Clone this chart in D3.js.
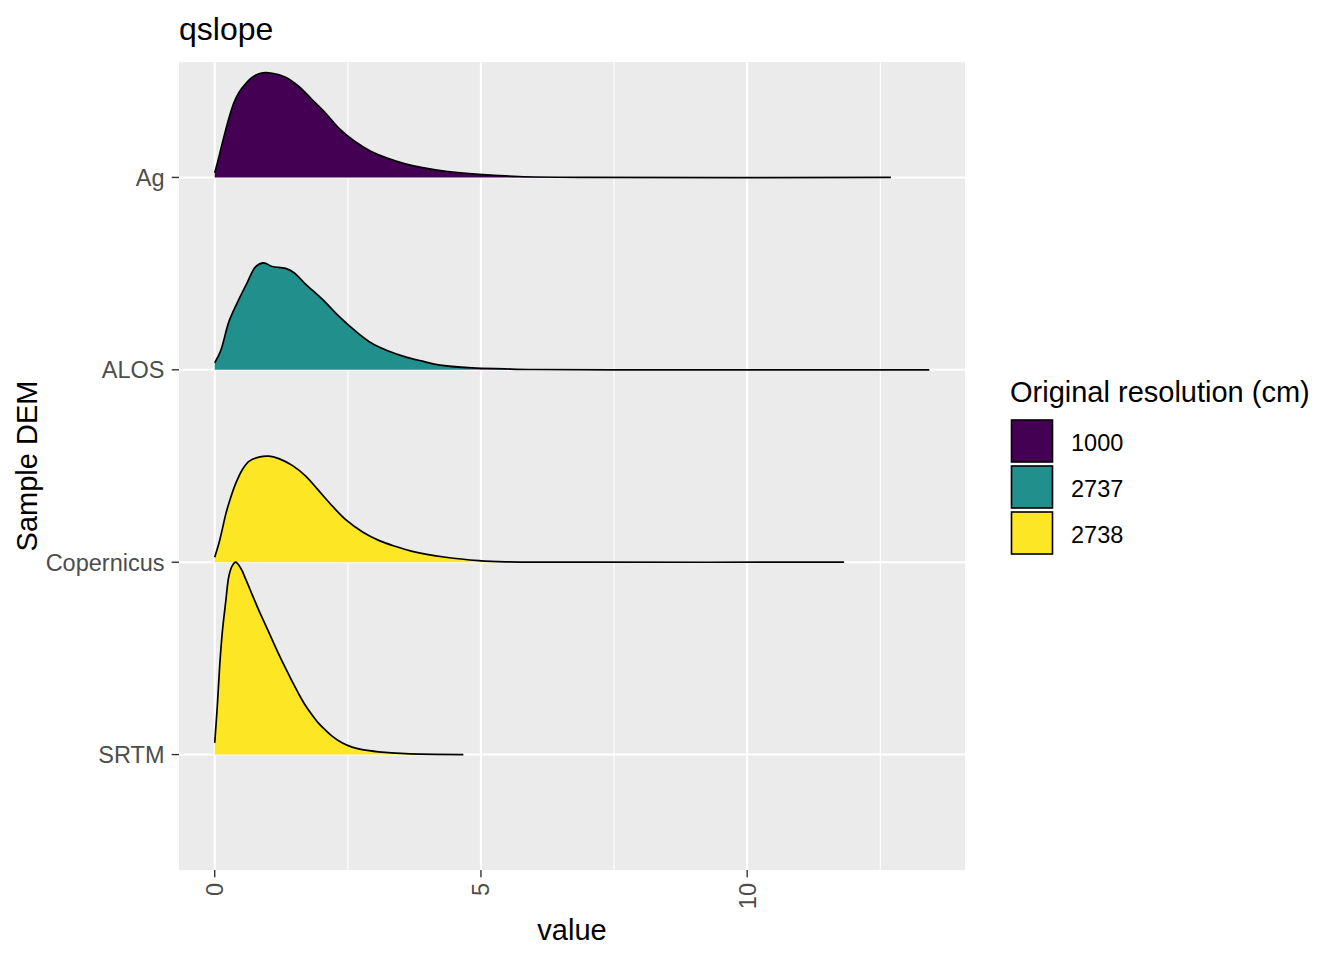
<!DOCTYPE html>
<html>
<head>
<meta charset="utf-8">
<script src="https://cdn.jsdelivr.net/npm/d3@7"></script>
<style>
  body { margin: 0; background: #fff; }
  text { font-family: "Liberation Sans", Arial, sans-serif; }
</style>
</head>
<body>
<div id="vis"></div>
<script>
var width = 1344,
    height = 960;

// categories, bottom to top
var dems = ["SRTM", "Copernicus", "ALOS", "Ag"];
var resolution = { Ag: "1000", ALOS: "2737", Copernicus: "2738", SRTM: "2738" };
var resLevels = ["1000", "2737", "2738"];
var resColors = ["#440154", "#21908C", "#FDE725"];

// density estimates of qslope, read from the ridges
var agX = [0, 0.05, 0.112, 0.174, 0.268, 0.362, 0.455, 0.58, 0.706, 0.861, 1.08, 1.33, 1.58, 1.83, 2.08, 2.33, 2.62, 2.93, 3.25, 3.56, 3.9, 4.34, 4.96, 5.71, 7.0, 12.70];
var agD = [0.015, 0.047, 0.090, 0.133, 0.193, 0.243, 0.276, 0.304, 0.325, 0.338, 0.338, 0.325, 0.295, 0.252, 0.209, 0.160, 0.118, 0.085, 0.062, 0.045, 0.032, 0.020, 0.010, 0.003, 0, 0];

var alosX = [0, 0.11, 0.27, 0.455, 0.61, 0.77, 0.92, 1.08, 1.33, 1.49, 1.70, 2.02, 2.33, 2.64, 2.95, 3.26, 3.58, 3.90, 4.20, 4.83, 5.45, 6.0, 7.5, 13.42];
var alosD = [0.023, 0.061, 0.158, 0.229, 0.283, 0.335, 0.347, 0.335, 0.329, 0.315, 0.279, 0.229, 0.174, 0.126, 0.086, 0.061, 0.042, 0.028, 0.016, 0.006, 0.003, 0.001, 0, 0];

var copX = [0, 0.08, 0.144, 0.206, 0.30, 0.393, 0.518, 0.642, 0.83, 1.017, 1.204, 1.455, 1.704, 1.953, 2.204, 2.466, 2.777, 3.09, 3.4, 3.71, 4.34, 4.96, 5.46, 7.0, 11.82];
var copD = [0.016, 0.062, 0.108, 0.155, 0.210, 0.255, 0.300, 0.327, 0.341, 0.344, 0.336, 0.314, 0.280, 0.232, 0.183, 0.137, 0.098, 0.070, 0.051, 0.035, 0.016, 0.005, 0.001, 0, 0];

var srtmX = [0, 0.05, 0.094, 0.144, 0.206, 0.268, 0.331, 0.393, 0.487, 0.58, 0.705, 0.829, 0.955, 1.08, 1.204, 1.33, 1.455, 1.58, 1.704, 1.83, 1.953, 2.08, 2.204, 2.39, 2.58, 2.77, 3.077, 3.58, 4.67];
var srtmD = [0.038, 0.161, 0.290, 0.400, 0.495, 0.581, 0.613, 0.624, 0.605, 0.570, 0.518, 0.468, 0.420, 0.372, 0.325, 0.280, 0.237, 0.196, 0.159, 0.128, 0.101, 0.079, 0.060, 0.038, 0.024, 0.016, 0.009, 0.003, 0];

var xTicks = [0, 5, 10];
var xMinor = [2.5, 7.5, 12.5];

var ridges = [
    { dem: "Ag", x: agX, d: agD },
    { dem: "ALOS", x: alosX, d: alosD },
    { dem: "Copernicus", x: copX, d: copD },
    { dem: "SRTM", x: srtmX, d: srtmD }
];

var panel = { left: 179, right: 965, top: 62, bottom: 870 };

// ggplot's 5% expansion around the data range
var xMax = d3.max(ridges, r => d3.max(r.x));
var span = xMax * 0.05;
var x = d3.scaleLinear()
    .domain([-span, xMax + span])
    .range([panel.left, panel.right]);

var y = d3.scalePoint()
    .domain(dems)
    .range([panel.bottom, panel.top])
    .padding(0.6);

var maxD = d3.max(ridges, r => d3.max(r.d));
var h = d3.scaleLinear().domain([0, maxD]).range([0, y.step()]);

var fill = d3.scaleOrdinal().domain(resLevels).range(resColors);

var svg = d3.select("#vis").append("svg")
    .attr("width", width)
    .attr("height", height);

svg.append("rect")
    .attr("x", panel.left).attr("y", panel.top)
    .attr("width", panel.right - panel.left)
    .attr("height", panel.bottom - panel.top)
    .attr("fill", "#EBEBEB");

var grid = svg.append("g").attr("stroke", "#fff");
grid.selectAll("line.minor")
    .data(xMinor)
    .join("line")
    .attr("x1", d => x(d)).attr("x2", d => x(d))
    .attr("y1", panel.top).attr("y2", panel.bottom)
    .attr("stroke-width", 1.1);
grid.selectAll("line.majx")
    .data(xTicks)
    .join("line")
    .attr("x1", d => x(d)).attr("x2", d => x(d))
    .attr("y1", panel.top).attr("y2", panel.bottom)
    .attr("stroke-width", 2.1);
grid.selectAll("line.majy")
    .data(dems)
    .join("line")
    .attr("x1", panel.left).attr("x2", panel.right)
    .attr("y1", d => y(d)).attr("y2", d => y(d))
    .attr("stroke-width", 2.1);

// ridges, top one first so lower ridges overlap it
var g = svg.append("g");
ridges.forEach(function (r) {
    var pts = r.x.map((v, i) => [v, r.d[i]]);
    var base = y(r.dem);
    var top = p => base - h(p[1]);
    var area = d3.area()
        .x(p => x(p[0]))
        .y0(base)
        .y1(top)
        .curve(d3.curveMonotoneX);
    var line = d3.line()
        .x(p => x(p[0]))
        .y(top)
        .curve(d3.curveCatmullRom.alpha(0.5));
    g.append("path")
        .attr("d", area.curve(d3.curveCatmullRom.alpha(0.5))(pts))
        .attr("fill", fill(resolution[r.dem]));
    g.append("path")
        .attr("d", line(pts))
        .attr("fill", "none")
        .attr("stroke", "#000")
        .attr("stroke-width", 1.7);
});

// y axis
var yAxis = svg.append("g");
yAxis.selectAll("line")
    .data(dems)
    .join("line")
    .attr("x1", panel.left - 7.3).attr("x2", panel.left)
    .attr("y1", d => y(d)).attr("y2", d => y(d))
    .attr("stroke", "#333").attr("stroke-width", 1.4);
yAxis.selectAll("text")
    .data(dems)
    .join("text")
    .attr("x", panel.left - 14.5)
    .attr("y", d => y(d))
    .attr("dy", "0.36em")
    .attr("text-anchor", "end")
    .attr("font-size", 23.5)
    .attr("fill", "#4D4D4D")
    .text(d => d);

// x axis, labels turned 90 degrees
var xAxis = svg.append("g");
xAxis.selectAll("line")
    .data(xTicks)
    .join("line")
    .attr("x1", d => x(d)).attr("x2", d => x(d))
    .attr("y1", panel.bottom).attr("y2", panel.bottom + 7.3)
    .attr("stroke", "#333").attr("stroke-width", 1.4);
xAxis.selectAll("text")
    .data(xTicks)
    .join("text")
    .attr("transform", d => `translate(${x(d)},${panel.bottom + 13})rotate(-90)`)
    .attr("dy", "0.36em")
    .attr("text-anchor", "end")
    .attr("font-size", 23.5)
    .attr("fill", "#4D4D4D")
    .text(d => d);

svg.append("text")
    .attr("x", (panel.left + panel.right) / 2)
    .attr("y", 940)
    .attr("text-anchor", "middle")
    .attr("font-size", 29)
    .text("value");

svg.append("text")
    .attr("transform", `translate(37,${(panel.top + panel.bottom) / 2})rotate(-90)`)
    .attr("text-anchor", "middle")
    .attr("font-size", 29)
    .text("Sample DEM");

svg.append("text")
    .attr("x", panel.left)
    .attr("y", 40)
    .attr("font-size", 32)
    .text("qslope");

// legend
var legend = svg.append("g").attr("transform", "translate(1010,0)");
legend.append("text")
    .attr("x", 0).attr("y", 402)
    .attr("font-size", 29)
    .text("Original resolution (cm)");
var key = legend.selectAll("g.key")
    .data(resLevels)
    .join("g")
    .attr("transform", (d, i) => `translate(0,${420 + i * 46})`);
key.append("rect")
    .attr("x", 1.5).attr("y", 0)
    .attr("width", 41).attr("height", 42)
    .attr("fill", d => fill(d))
    .attr("stroke", "#000")
    .attr("stroke-width", 1.6);
key.append("text")
    .attr("x", 61).attr("y", 23)
    .attr("dy", "0.36em")
    .attr("font-size", 23.5)
    .text(d => d);
</script>
</body>
</html>
